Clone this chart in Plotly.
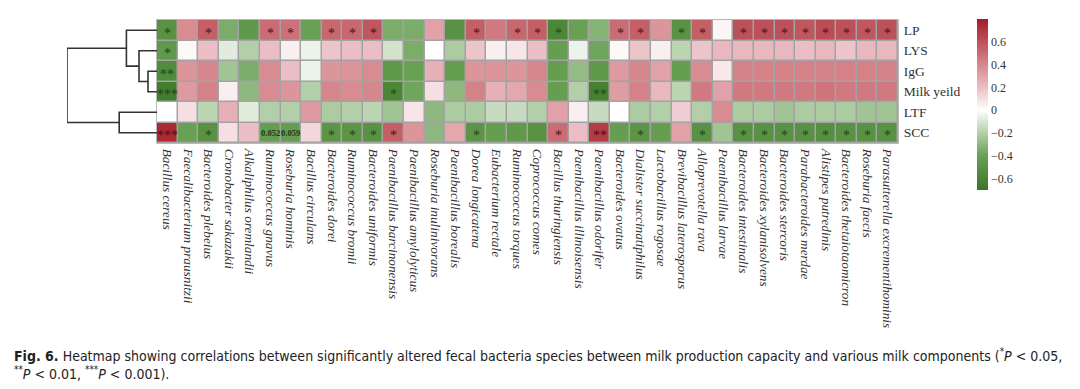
import plotly.graph_objects as go

rows = ["LP", "LYS", "IgG", "Milk yeild", "LTF", "SCC"]
species = [
    "Bacillus cereus", "Faecalibacterium prausnitzii", "Bacteroides plebeius",
    "Cronobacter sakazakii", "Alkaliphilus oremlandii", "Ruminococcus gnavus",
    "Roseburia hominis", "Bacillus circulans", "Bacteroides dorei",
    "Ruminococcus bromii", "Bacteroides uniformis", "Paenibacillus barcinonensis",
    "Paenibacillus amylolyticus", "Roseburia inulinivorans", "Paenibacillus borealis",
    "Dorea longicatena", "Eubacterium rectale", "Ruminococcus torques",
    "Coprococcus comes", "Bacillus thuringiensis", "Paenibacillus illinoisensis",
    "Paenibacillus odorifer", "Bacteroides ovatus", "Dialister succinatiphilus",
    "Lactobacillus rogosae", "Brevibacillus laterosporus", "Alloprevotella rava",
    "Paenibacillus larvae", "Bacteroides intestinalis", "Bacteroides xylanisolvens",
    "Bacteroides stercoris", "Parabacteroides merdae", "Alistipes putredinis",
    "Bacteroides thetaiotaomicron", "Roseburia faecis", "Parasutterella excrementihominis",
]

lp = [-0.50, 0.38, 0.55, -0.35, -0.45, 0.50, 0.48, -0.40, 0.52, 0.52, 0.58, -0.35,
      -0.35, 0.30, -0.50, 0.55, 0.45, 0.52, 0.55, -0.58, -0.40, -0.32, 0.50, 0.55,
      0.35, -0.50, 0.55, 0.03, 0.60, 0.60, 0.60, 0.58, 0.62, 0.60, 0.58, 0.60]
lys = [-0.45, 0.02, 0.20, -0.08, -0.20, 0.20, 0.05, -0.05, 0.18, 0.20, 0.20, -0.12,
       -0.35, 0.00, -0.22, 0.18, 0.05, 0.08, 0.20, -0.42, -0.05, -0.38, 0.02, 0.18,
       0.05, -0.18, 0.18, 0.22, 0.22, 0.22, 0.22, 0.20, 0.22, 0.18, 0.22, 0.22]
igg = [-0.55, 0.35, 0.40, -0.25, -0.35, 0.38, 0.20, -0.05, 0.35, 0.35, 0.38, -0.45,
       -0.40, 0.25, -0.42, 0.35, 0.35, 0.35, 0.40, -0.42, -0.28, -0.45, 0.33, 0.40,
       0.30, -0.42, 0.38, 0.07, 0.42, 0.42, 0.42, 0.42, 0.42, 0.42, 0.42, 0.42]
milk = [-0.65, 0.33, 0.42, 0.05, -0.30, 0.38, 0.35, -0.20, 0.40, 0.38, 0.40, -0.58,
        -0.38, 0.10, -0.30, 0.42, 0.25, 0.28, 0.38, -0.42, -0.20, -0.62, 0.32, 0.42,
        0.22, -0.18, 0.45, 0.30, 0.45, 0.45, 0.45, 0.45, 0.47, 0.45, 0.45, 0.45]
ltf = [0.00, 0.10, -0.18, 0.25, -0.08, -0.20, -0.20, 0.33, -0.22, -0.20, -0.18, -0.25,
       0.08, -0.30, -0.22, -0.22, -0.15, -0.15, -0.20, 0.30, 0.05, -0.15, 0.00, -0.22,
       -0.20, 0.15, -0.20, 0.38, -0.22, -0.22, -0.25, -0.22, -0.22, -0.22, -0.25, -0.25]
scc = [0.75, -0.40, -0.50, 0.10, 0.20, -0.42, -0.42, 0.12, -0.48, -0.48, -0.50, 0.55,
       0.35, -0.30, 0.28, -0.48, -0.42, -0.45, -0.50, 0.50, 0.20, 0.68, -0.42, -0.48,
       -0.42, 0.30, -0.50, -0.25, -0.50, -0.50, -0.50, -0.50, -0.52, -0.50, -0.50, -0.50]

# significance marks: {column number (1-based): label}
marks_lp = {1: "*", 3: "*", 6: "*", 7: "*", 9: "*", 10: "*", 11: "*", 16: "*", 18: "*",
            19: "*", 20: "*", 23: "*", 24: "*", 26: "*", 27: "*", 29: "*", 30: "*",
            31: "*", 32: "*", 33: "*", 34: "*", 35: "*", 36: "*"}
marks_lys = {1: "*"}
marks_igg = {1: "**"}
marks_milk = {1: "***", 12: "*", 22: "**"}
marks_ltf = {}
marks_scc = {1: "***", 3: "*", 6: "0.052", 7: "0.059", 9: "*", 10: "*", 11: "*", 12: "*",
             16: "*", 20: "*", 22: "**", 24: "*", 27: "*", 29: "*", 30: "*", 31: "*",
             32: "*", 33: "*", 34: "*", 35: "*", 36: "*"}

# hierarchical clustering of rows: (child a, child b, merge height)
merges = [("IgG", "Milk yeild", 0.10), ("LYS", "c1", 0.20), ("LP", "c2", 0.34),
          ("LTF", "SCC", 0.42), ("c3", "c4", 1.00)]

cbar_ticks = [-0.6, -0.4, -0.2, 0, 0.2, 0.4, 0.6]

# page body has an 8px margin: the figure is sized to fill the rest of the window
OFF = 8
W, H = 1080 - OFF, 389 - OFF


def fx(px):
    return (px - OFF) / W


def fy(py):
    return 1 - (py - OFF) / H


z = [lp, lys, igg, milk, ltf, scc]
marks = [marks_lp, marks_lys, marks_igg, marks_milk, marks_ltf, marks_scc]

colorscale = [
    [0.0, "rgb(58,118,38)"], [0.2, "rgb(104,160,84)"], [0.467, "rgb(255,255,255)"],
    [0.6, "rgb(234,190,196)"], [0.75, "rgb(212,128,134)"], [1.0, "rgb(163,28,38)"],
]

fig = go.Figure()
fig.add_trace(go.Heatmap(
    z=z, x=list(range(len(species))), y=list(range(len(rows))),
    colorscale=colorscale, zmin=-0.7, zmax=0.8, xgap=1.5, ygap=1.5,
    xaxis="x", yaxis="y", hoverinfo="skip",
    colorbar=dict(
        x=fx(977), xanchor="left", y=fy(19), yanchor="top",
        len=171, lenmode="pixels", thickness=11, xpad=0, ypad=0,
        outlinewidth=0, tickvals=cbar_ticks, ticks="",
        tickfont=dict(family="Liberation Serif", size=12, color="#333"),
    ),
))

# dendrogram
pos = {r: (i, 0.0) for i, r in enumerate(rows)}
dx, dy = [], []
for k, (a, b, h) in enumerate(merges, start=1):
    ya, ha = pos[a]
    yb, hb = pos[b]
    dx += [ha, h, h, hb, None]
    dy += [ya, ya, yb, yb, None]
    pos["c%d" % k] = ((ya + yb) / 2, h)
fig.add_trace(go.Scatter(x=dx, y=dy, mode="lines", xaxis="x2", yaxis="y2",
                         line=dict(color="#333333", width=1.6), hoverinfo="skip",
                         showlegend=False))

# significance annotations
for ri, mk in enumerate(marks):
    for col, label in mk.items():
        ci = col - 1
        val = z[ri][ci]
        color = "#1c4414" if val < 0 else "#461015"
        if label.startswith("0."):
            fig.add_annotation(x=ci, y=ri, xref="x", yref="y", text="<b>%s</b>" % label,
                               showarrow=False, font=dict(family="Liberation Serif",
                               size=8.5, color="#1c3814"))
        else:
            fig.add_annotation(x=ci, y=ri, xref="x", yref="y", text=label, yshift=-3,
                               showarrow=False, font=dict(family="Liberation Serif",
                               size=14, color=color))

# gray grid background behind heatmap
fig.add_shape(type="rect", xref="x domain", yref="y domain", x0=-0.001, x1=1.001,
              y0=-0.006, y1=1.006, fillcolor="#a3a3a3", line=dict(width=0), layer="below")

caption = ("<b>Fig. 6.</b> Heatmap showing correlations between significantly altered fecal "
           "bacteria species between milk production capacity and various milk components "
           "(<sup>*</sup><i>P</i> &lt; 0.05,<br><sup>**</sup><i>P</i> &lt; 0.01, "
           "<sup>***</sup><i>P</i> &lt; 0.001).")
fig.add_annotation(x=fx(12), y=fy(364), xref="paper", yref="paper", xanchor="left",
                   yanchor="middle", align="left", showarrow=False, text=caption,
                   font=dict(family="DejaVu Sans Condensed, DejaVu Sans, sans-serif",
                             size=14, color="#222"))

fig.update_layout(
    width=W, height=H, margin=dict(l=0, r=0, t=0, b=0),
    paper_bgcolor="white", plot_bgcolor="white", showlegend=False,
    xaxis=dict(domain=[fx(157), fx(898)], range=[-0.5, len(species) - 0.5],
               tickvals=list(range(len(species))), ticktext=species, tickangle=90,
               ticks="outside", ticklen=2, tickcolor="rgba(0,0,0,0)",
               tickfont=dict(family="Liberation Serif", size=13.3, color="#333",
                             style="italic"),
               showgrid=False, zeroline=False, showline=False),
    yaxis=dict(domain=[fy(143), fy(20)], range=[len(rows) - 0.5, -0.5], side="right",
               tickvals=list(range(len(rows))), ticktext=rows,
               ticks="outside", ticklen=2, tickcolor="rgba(0,0,0,0)",
               tickfont=dict(family="Liberation Serif", size=13.5, color="#333"),
               showgrid=False, zeroline=False, showline=False),
    xaxis2=dict(domain=[fx(67), fx(157)], range=[1.0, 0.0], anchor="y2",
                visible=False),
    yaxis2=dict(domain=[fy(143), fy(20)], range=[len(rows) - 0.5, -0.5], anchor="x2",
                visible=False),
)

fig.write_html("out.html")
